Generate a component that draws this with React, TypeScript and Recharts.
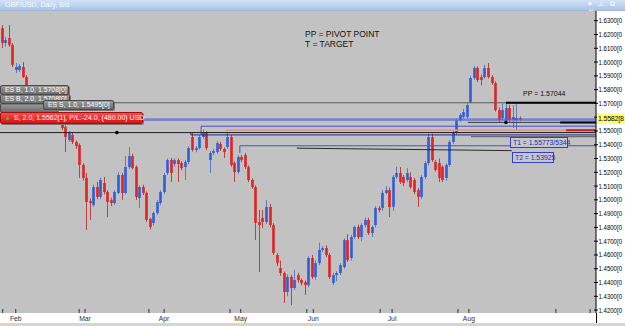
import React from 'react';
import { ComposedChart, Bar, XAxis, YAxis, ReferenceLine, ReferenceDot, CartesianGrid } from 'recharts';

// ---- Daily GBP/USD candles ----
const opens = [
  1.6247, 1.6138, 1.6174, 1.6124, 1.5942, 1.5942, 1.5964, 1.5891, 1.5819, 1.5725,
  1.5637, 1.5652, 1.5688, 1.5652, 1.5601, 1.5616, 1.5594, 1.5579, 1.5529, 1.5434,
  1.5471, 1.5420, 1.5398, 1.5253, 1.5159, 1.4990, 1.4962, 1.5093, 1.5021, 1.5122,
  1.5057, 1.4999, 1.4977, 1.5050, 1.5180, 1.5050, 1.5238, 1.5318, 1.5238, 1.5013,
  1.5093, 1.5050, 1.4861, 1.4832, 1.4904, 1.4977, 1.5057, 1.5195, 1.5289, 1.5260,
  1.5289, 1.5267, 1.5238, 1.5275, 1.5456, 1.5362, 1.5376, 1.5456, 1.5485, 1.5289,
  1.5340, 1.5347, 1.5405, 1.5369, 1.5383, 1.5456, 1.5267, 1.5202, 1.5311, 1.5325,
  1.5238, 1.5144, 1.5093, 1.4839, 1.4868, 1.4839, 1.4948, 1.4817, 1.4600, 1.4505,
  1.4469, 1.4331, 1.4440, 1.4360, 1.4454, 1.4418, 1.4403, 1.4381, 1.4578, 1.4440,
  1.4541, 1.4636, 1.4650, 1.4600, 1.4396, 1.4454, 1.4469, 1.4512, 1.4708, 1.4578,
  1.4730, 1.4803, 1.4730, 1.4817, 1.4854, 1.4759, 1.4817, 1.4941, 1.4941, 1.5050,
  1.5071, 1.4950, 1.5166, 1.5195, 1.5166, 1.5144, 1.5166, 1.5144, 1.5071, 1.5021,
  1.5166, 1.5267, 1.5456, 1.5275, 1.5267, 1.5238, 1.5159, 1.5253, 1.5420, 1.5485,
  1.5579, 1.5601, 1.5601, 1.5710, 1.5884, 1.5957, 1.5891, 1.5891, 1.5957, 1.5891,
  1.5848, 1.5652, 1.5594, 1.5579, 1.5666, 1.5579, 1.5579, 1.5594,
];
const highs = [
  1.6269, 1.6182, 1.6269, 1.6138, 1.5993, 1.5986, 1.6000, 1.5906, 1.5833, 1.5740,
  1.5710, 1.5725, 1.5710, 1.5666, 1.5660, 1.5640, 1.5610, 1.5590, 1.5540, 1.5500,
  1.5490, 1.5430, 1.5410, 1.5265, 1.5195, 1.5010, 1.5110, 1.5130, 1.5160, 1.5166,
  1.5070, 1.5015, 1.5070, 1.5200, 1.5195, 1.5318, 1.5383, 1.5335, 1.5250, 1.5105,
  1.5110, 1.5060, 1.4870, 1.4915, 1.4999, 1.5070, 1.5195, 1.5300, 1.5304, 1.5300,
  1.5300, 1.5280, 1.5290, 1.5390, 1.5485, 1.5390, 1.5470, 1.5510, 1.5500, 1.5355,
  1.5370, 1.5425, 1.5420, 1.5380, 1.5485, 1.5470, 1.5280, 1.5325, 1.5325, 1.5340,
  1.5250, 1.5155, 1.5105, 1.4926, 1.4926, 1.4999, 1.4970, 1.4830, 1.4615, 1.4560,
  1.4480, 1.4460, 1.4455, 1.4490, 1.4470, 1.4430, 1.4415, 1.4590, 1.4600, 1.4560,
  1.4690, 1.4665, 1.4670, 1.4615, 1.4470, 1.4480, 1.4540, 1.4720, 1.4750, 1.4745,
  1.4815, 1.4820, 1.4830, 1.4870, 1.4870, 1.4815, 1.4955, 1.4955, 1.5070, 1.5100,
  1.5090, 1.5180, 1.5240, 1.5238, 1.5180, 1.5230, 1.5200, 1.5160, 1.5085, 1.5180,
  1.5280, 1.5480, 1.5480, 1.5290, 1.5300, 1.5250, 1.5265, 1.5435, 1.5505, 1.5590,
  1.5630, 1.5660, 1.5700, 1.5900, 1.5970, 1.5970, 1.5910, 1.5980, 1.5993, 1.5905,
  1.5860, 1.5670, 1.5700, 1.5700, 1.5690, 1.5688, 1.5700, 1.5605,
];
const lows = [
  1.6102, 1.6110, 1.6110, 1.5964, 1.5920, 1.5928, 1.5884, 1.5797, 1.5710, 1.5630,
  1.5620, 1.5637, 1.5616, 1.5590, 1.5590, 1.5565, 1.5550, 1.5505, 1.5347, 1.5420,
  1.5405, 1.5370, 1.5159, 1.5140, 1.4781, 1.4854, 1.4950, 1.5005, 1.5005, 1.5040,
  1.4875, 1.4955, 1.4962, 1.5040, 1.5000, 1.5040, 1.5225, 1.5220, 1.4999, 1.4941,
  1.5035, 1.4840, 1.4785, 1.4815, 1.4890, 1.4960, 1.5040, 1.5180, 1.5130, 1.5240,
  1.5130, 1.5215, 1.5144, 1.5260, 1.5350, 1.5345, 1.5365, 1.5445, 1.5360, 1.5195,
  1.5325, 1.5335, 1.5355, 1.5304, 1.5370, 1.5240, 1.5130, 1.5190, 1.5275, 1.5225,
  1.5130, 1.5080, 1.4708, 1.4476, 1.4795, 1.4825, 1.4800, 1.4600, 1.4520, 1.4450,
  1.4251, 1.4300, 1.4237, 1.4345, 1.4400, 1.4380, 1.4310, 1.4365, 1.4425, 1.4420,
  1.4525, 1.4620, 1.4585, 1.4425, 1.4380, 1.4410, 1.4455, 1.4500, 1.4550, 1.4560,
  1.4715, 1.4715, 1.4700, 1.4800, 1.4745, 1.4730, 1.4800, 1.4910, 1.4920, 1.5040,
  1.4875, 1.4920, 1.5150, 1.5115, 1.5100, 1.5130, 1.5080, 1.5040, 1.4948, 1.5005,
  1.5150, 1.5250, 1.5275, 1.5205, 1.5130, 1.5130, 1.5140, 1.5240, 1.5405, 1.5470,
  1.5565, 1.5590, 1.5590, 1.5700, 1.5870, 1.5855, 1.5830, 1.5880, 1.5880, 1.5835,
  1.5640, 1.5565, 1.5575, 1.5560, 1.5565, 1.5521, 1.5507, 1.5570,
];
const closes = [
  1.6138, 1.6160, 1.6124, 1.5979, 1.5964, 1.5971, 1.5891, 1.5819, 1.5725, 1.5652,
  1.5688, 1.5703, 1.5630, 1.5616, 1.5637, 1.5579, 1.5565, 1.5521, 1.5456, 1.5485,
  1.5420, 1.5391, 1.5253, 1.5159, 1.4984, 1.4977, 1.5093, 1.5021, 1.5144, 1.5057,
  1.4984, 1.4977, 1.5057, 1.5180, 1.5050, 1.5238, 1.5318, 1.5231, 1.5021, 1.5093,
  1.5050, 1.4854, 1.4803, 1.4904, 1.4984, 1.5057, 1.5180, 1.5289, 1.5195, 1.5289,
  1.5260, 1.5231, 1.5275, 1.5376, 1.5362, 1.5376, 1.5456, 1.5485, 1.5376, 1.5340,
  1.5354, 1.5412, 1.5369, 1.5347, 1.5456, 1.5253, 1.5202, 1.5311, 1.5289, 1.5238,
  1.5144, 1.5093, 1.4832, 1.4817, 1.4839, 1.4948, 1.4817, 1.4614, 1.4541, 1.4469,
  1.4331, 1.4440, 1.4360, 1.4418, 1.4418, 1.4396, 1.4381, 1.4578, 1.4440, 1.4541,
  1.4636, 1.4650, 1.4600, 1.4440, 1.4454, 1.4469, 1.4527, 1.4708, 1.4563, 1.4730,
  1.4803, 1.4730, 1.4817, 1.4854, 1.4759, 1.4803, 1.4941, 1.4926, 1.5050, 1.5071,
  1.4948, 1.5166, 1.5195, 1.5130, 1.5122, 1.5195, 1.5093, 1.5057, 1.5021, 1.5166,
  1.5267, 1.5456, 1.5289, 1.5217, 1.5159, 1.5144, 1.5253, 1.5420, 1.5492, 1.5579,
  1.5616, 1.5637, 1.5688, 1.5884, 1.5957, 1.5870, 1.5870, 1.5957, 1.5891, 1.5848,
  1.5652, 1.5579, 1.5652, 1.5666, 1.5579, 1.5601, 1.5594, 1.5582,
];

// ---- axis ticks ----
const monthLabels = ['Feb', 'Mar', 'Apr', 'May', 'Jun', 'Jul', 'Aug'];
const monthTickIdx = [3.9, 23.55, 46.0, 67.75, 88.35, 110.7, 132.5];
const minorTickIdx = [0.2, 21.9, 41.7, 64.7, 86.5, 107.3, 129.4, 157.2, 166.9];
const priceTicks = [
  1.42, 1.43, 1.44, 1.45, 1.46, 1.47, 1.48, 1.49, 1.5, 1.51, 1.52,
  1.53, 1.54, 1.55, 1.56, 1.57, 1.58, 1.59, 1.6, 1.61, 1.62, 1.63,
];
const hiddenPriceLabel = 1.56; // covered by the current-price tag

// ---- price levels drawn by the trader ----
const pivotPoint = 1.57044;
const quoteLevel = 1.5586;
const target1 = 1.55773;
const entryLevel = 1.5562;
const target1b = 1.55344;
const sellStopLevel = 1.5505;
const supportLevel = 1.5488;
const lowerSupport = 1.5471;
const lowerSupport2 = 1.5458;
const target2 = 1.53925;
const target2Foot = 1.534;
const trendStart = 1.5375;
const trendEnd = 1.5357;
const lastPrice = '1.5582[8';

// anchor bars (index) where levels start
const X0 = -0.5676;
const X1 = 168.57;
const aLabelEnd = 40.0;
const aEntry = 132.2;
const aGray2 = 133.1;
const aPPThick = 143.0;
const aEntryThick = 158.4;
const aRedThick = 160.1;
const aT1b = 56.5;
const aPink = 63.6;
const aLower = 53.6;
const aT2 = 67.5;
const aTrendStart = 83.7;
const aTrendEnd = 144.7;
const aDot1 = 32.6;

const data = opens.map((o, i) => ({ i, open: o, high: highs[i], low: lows[i], close: closes[i] }));

const FONT = '"Liberation Sans", Arial, sans-serif';
const RED = '#e02323';
const BLUE = '#2f5ed8';

function Candle(props: any) {
  const { x, y, width, height, payload } = props;
  if (!payload || height == null || isNaN(y)) return null;
  const top = Math.min(y, y + height);
  const h = Math.abs(height);
  const { open, close, high, low } = payload;
  const k = high > low ? h / (high - low) : 0;
  const py = (v: number) => top + (high - v) * k;
  const up = close >= open;
  const cx = Math.round(x + width / 2);
  const bTop = py(Math.max(open, close));
  const bBot = py(Math.min(open, close));
  return (
    <g>
      <line x1={cx + 0.5} x2={cx + 0.5} y1={top} y2={top + h} stroke={up ? '#5f7cbc' : '#b54545'} strokeWidth={1} />
      <rect x={cx - 0.8} y={bTop} width={2.6} height={Math.max(1.2, bBot - bTop)} fill={up ? BLUE : RED} />
    </g>
  );
}

function XTick(props: any) {
  const { x, y, payload } = props;
  const mi = monthTickIdx.indexOf(payload.value);
  return (
    <g>
      <line x1={x} x2={x} y1={y - 4} y2={y} stroke="#333" strokeWidth={1} />
      {mi >= 0 && (
        <text x={x} y={y + 7.5} textAnchor="middle" fontSize={6.8} fontFamily={FONT} fill="#333">
          {monthLabels[mi]}
        </text>
      )}
    </g>
  );
}

function YTick(props: any) {
  const { x, y, payload } = props;
  const v = payload.value as number;
  return (
    <g>
      <line x1={x - 2} x2={x + 2} y1={y} y2={y} stroke="#000" strokeWidth={1} />
      {Math.abs(v - hiddenPriceLabel) > 1e-6 && (
        <text x={x + 2.5} y={y + 2.5} fontSize={7.2} fontFamily={FONT} fill="#000" textLength={23.5} lengthAdjust="spacingAndGlyphs">
          {v.toFixed(4) + '[0'}
        </text>
      )}
    </g>
  );
}

const tagStyle = (left: number, top: number, width: number, height: number): React.CSSProperties => ({
  position: 'absolute',
  left,
  top,
  width,
  height,
  boxSizing: 'border-box',
  background: 'linear-gradient(#9a9a9a, #6c6c6c)',
  border: '1px solid #4a4a4a',
  borderRadius: 2,
  color: '#ffffff',
  fontFamily: FONT,
  fontSize: 6.9,
  lineHeight: `${height - 2}px`,
  paddingLeft: 4,
  whiteSpace: 'nowrap',
  overflow: 'hidden',
  boxShadow: '1px 1px 0 #777',
});

export default function App() {
  return (
    <div style={{ position: 'fixed', left: 0, top: 0, width: 625, height: 326, background: '#fff', overflow: 'hidden' }}>
      {/* title bar */}
      <div
        style={{
          position: 'absolute', left: 0, top: 0, width: 625, height: 11,
          background: 'linear-gradient(#d3e2f5, #aac5e8)', borderBottom: '1px solid #9fb7d8', boxSizing: 'border-box',
        }}
      >
        <span style={{ position: 'absolute', left: 5, top: 1, fontFamily: FONT, fontSize: 7, color: '#f4f7fc' }}>
          GBP/USD, Daily, Bid
        </span>
        <span style={{ position: 'absolute', left: 588, top: 0, fontFamily: FONT, fontSize: 7, color: '#ffffff', letterSpacing: 2 }}>
          ▾ ⊥ ⧉ ✕
        </span>
      </div>

      {/* gray plot background */}
      <div style={{ position: 'absolute', left: 0, top: 11, width: 596, height: 302, background: '#c2c2c2' }} />

      <div style={{ position: 'absolute', left: 0, top: 11 }}>
        <ComposedChart width={625} height={312} data={data} margin={{ top: 0, right: 0, bottom: 0, left: 0 }}>
          <CartesianGrid horizontal={false} vertical={false} fill="#c2c2c2" />
          <XAxis
            type="number"
            dataKey="i"
            domain={[X0, X1]}
            allowDataOverflow
            ticks={[...minorTickIdx, ...monthTickIdx].sort((a, b) => a - b)}
            interval={0}
            tick={XTick}
            tickLine={false}
            axisLine={false}
            tickSize={0}
            tickMargin={0}
            height={10}
          />
          <YAxis
            orientation="right"
            type="number"
            domain={[1.41788, 1.63704]}
            allowDataOverflow
            ticks={priceTicks}
            interval={0}
            width={29}
            tick={YTick}
            tickLine={false}
            tickSize={0}
            tickMargin={0}
            axisLine={{ stroke: '#000', strokeWidth: 1 }}
          />

          <Bar dataKey={(d: any) => [d.low, d.high]} shape={Candle} barSize={3} isAnimationActive={false} />

          {/* pivot point */}
          <ReferenceLine y={pivotPoint} stroke="#5a5a5a" strokeWidth={1} />
          <ReferenceLine segment={[{ x: aPPThick, y: pivotPoint }, { x: X1, y: pivotPoint }]} stroke="#000" strokeWidth={2} />
          {/* quote + T1 */}
          <ReferenceLine segment={[{ x: aLabelEnd, y: quoteLevel }, { x: X1, y: quoteLevel }]} stroke="#4d5bd0" strokeWidth={1} />
          <ReferenceLine segment={[{ x: aLabelEnd, y: target1 }, { x: X1, y: target1 }]} stroke="#6a74d8" strokeWidth={1} />
          {/* entry */}
          <ReferenceLine segment={[{ x: aEntry, y: entryLevel }, { x: X1, y: entryLevel }]} stroke="#3a3a3a" strokeWidth={1} />
          <ReferenceLine segment={[{ x: aEntryThick, y: entryLevel }, { x: X1, y: entryLevel }]} stroke="#000" strokeWidth={2} />
          {/* T1b */}
          <ReferenceLine segment={[{ x: aT1b, y: target1b }, { x: X1, y: target1b }]} stroke="#4352c8" strokeWidth={1} />
          <ReferenceLine segment={[{ x: aT1b, y: target1b }, { x: aT1b, y: lowerSupport }]} stroke="#4352c8" strokeWidth={1} />
          {/* sell stop */}
          <ReferenceLine segment={[{ x: aPink, y: sellStopLevel }, { x: X1, y: sellStopLevel }]} stroke="#d99494" strokeWidth={1.5} />
          <ReferenceLine segment={[{ x: aPink, y: sellStopLevel }, { x: aPink, y: lowerSupport }]} stroke="#d99494" strokeWidth={1} />
          <ReferenceLine segment={[{ x: aRedThick, y: sellStopLevel }, { x: X1, y: sellStopLevel }]} stroke="#c42020" strokeWidth={2} />
          {/* support */}
          <ReferenceLine y={supportLevel} stroke="#1e1e1e" strokeWidth={1} />
          <ReferenceLine segment={[{ x: aLower, y: lowerSupport }, { x: X1, y: lowerSupport }]} stroke="#202c8a" strokeWidth={1} />
          <ReferenceLine segment={[{ x: aLower, y: supportLevel }, { x: aLower, y: lowerSupport }]} stroke="#202c8a" strokeWidth={1} />
          <ReferenceLine segment={[{ x: aGray2, y: lowerSupport2 }, { x: X1, y: lowerSupport2 }]} stroke="#555" strokeWidth={1} />
          {/* T2 */}
          <ReferenceLine segment={[{ x: aT2, y: target2 }, { x: X1, y: target2 }]} stroke="#4352c8" strokeWidth={1} />
          <ReferenceLine segment={[{ x: aT2, y: target2 }, { x: aT2, y: target2Foot }]} stroke="#4352c8" strokeWidth={1} />
          <ReferenceLine segment={[{ x: aTrendStart, y: trendStart }, { x: aTrendEnd, y: trendEnd }]} stroke="#2a2a2a" strokeWidth={1} />

          <ReferenceDot x={aDot1} y={supportLevel} r={1.8} fill="#000" stroke="none" />
          <ReferenceDot x={aPPThick} y={entryLevel} r={1.8} fill="#000" stroke="none" />
        </ComposedChart>
      </div>

      {/* axis line through the date strip */}
      <div style={{ position: 'absolute', left: 595.5, top: 313, width: 1, height: 10, background: '#000' }} />

      {/* notes */}
      <div style={{ position: 'absolute', left: 305, top: 29, fontFamily: FONT, fontSize: 8.5, lineHeight: '10px', color: '#111' }}>
        PP = PIVOT POINT<br />T = TARGET
      </div>
      <div style={{ position: 'absolute', left: 523, top: 90, fontFamily: FONT, fontSize: 7, color: '#111' }}>
        PP = 1.57044
      </div>
      <div
        style={{
          position: 'absolute', left: 510, top: 137, width: 58, height: 11, boxSizing: 'border-box',
          border: '1px solid #3040c8', fontFamily: FONT, fontSize: 6.8, lineHeight: '9px', color: '#2232b0',
          paddingLeft: 2, whiteSpace: 'nowrap', background: '#c6c6cf',
        }}
      >
        T1 = 1.55773/5344
      </div>
      <div
        style={{
          position: 'absolute', left: 512, top: 152, width: 42, height: 11, boxSizing: 'border-box',
          border: '1px solid #3040c8', fontFamily: FONT, fontSize: 6.8, lineHeight: '9px', color: '#2232b0',
          paddingLeft: 2, whiteSpace: 'nowrap', background: '#c6c6cf',
        }}
      >
        T2 = 1.53925
      </div>

      {/* order tags */}
      <div style={tagStyle(0, 103, 58, 10)} />
      <div style={tagStyle(0, 94, 70, 10)}>ES B, 2.0, 1.5708[0]</div>
      <div style={tagStyle(0, 85, 69, 10)}>ES B, 1.0, 1.5708[0]</div>
      <div style={tagStyle(43, 100, 71, 10)}>ES S, 1.0, 1.5495[0]</div>
      <div
        style={{
          position: 'absolute', left: 0, top: 112, width: 143, height: 12, boxSizing: 'border-box',
          background: 'linear-gradient(#ff4a4a, #d81414)', border: '1px solid #a01010', borderRadius: 2,
          color: '#fff', fontFamily: FONT, fontSize: 7, lineHeight: '10px', paddingLeft: 13, whiteSpace: 'nowrap',
          boxShadow: '1px 1px 0 #777',
        }}
      >
        <span style={{ position: 'absolute', left: 5, top: 3.5, width: 3, height: 3, borderRadius: 2, background: '#3c3' }} />
        S, 2.0, 1.5562[1], P/L:-24.0, (480.00) USD
      </div>

      {/* current price tag */}
      <div
        style={{
          position: 'absolute', left: 597, top: 114, width: 28, height: 10, background: '#ffff70',
          fontFamily: FONT, fontSize: 7, letterSpacing: -0.2, lineHeight: '10px', color: '#000', paddingLeft: 1, whiteSpace: 'nowrap', overflow: 'hidden',
        }}
      >
        {lastPrice}
      </div>

      {/* bottom toolbar strip */}
      <div style={{ position: 'absolute', left: 0, top: 323, width: 625, height: 3, background: '#d8d5cf' }} />
    </div>
  );
}
